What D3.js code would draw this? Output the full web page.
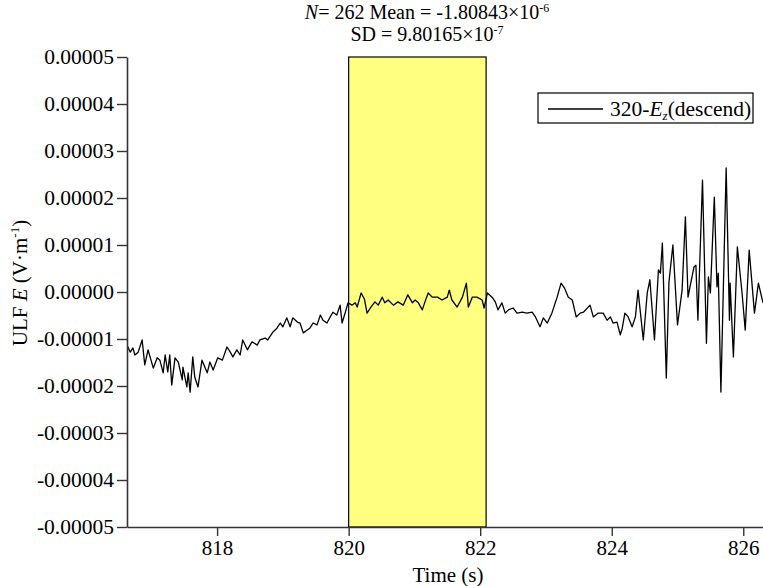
<!DOCTYPE html>
<html>
<head>
<meta charset="utf-8">
<script src="https://cdn.jsdelivr.net/npm/d3@7"></script>
<style>
  body { margin: 0; background: #fff; }
  svg { display: block; font-family: "Liberation Serif", "Times New Roman", serif; }
</style>
</head>
<body>
<div id="chart"></div>
<script>
(function() {
    "use strict";

    // Traced signal: time (s) and field in micro V/m (scaled by 1e-6 below).
    var timeS = [
        816.63, 816.68, 816.72, 816.75, 816.80, 816.86, 816.90, 816.95, 817.03, 817.09,
        817.13, 817.18, 817.21, 817.25, 817.28, 817.31, 817.36, 817.41, 817.47, 817.48,
        817.54, 817.56, 817.59, 817.63, 817.66, 817.71, 817.77, 817.85, 817.89, 817.94,
        818.01, 818.08, 818.15, 818.20, 818.24, 818.30, 818.35, 818.39, 818.46, 818.53,
        818.61, 818.65, 818.73, 818.77, 818.85, 818.91, 818.96, 819.00, 819.06, 819.11,
        819.15, 819.22, 819.26, 819.31, 819.37, 819.41, 819.46, 819.52, 819.57, 819.61,
        819.67, 819.72, 819.76, 819.82, 819.87, 819.90, 819.95, 819.99, 820.05, 820.10,
        820.13, 820.19, 820.24, 820.28, 820.33, 820.40, 820.45, 820.51, 820.55, 820.60,
        820.68, 820.75, 820.83, 820.90, 820.97, 821.01, 821.06, 821.12, 821.16, 821.21,
        821.27, 821.35, 821.42, 821.50, 821.53, 821.57, 821.65, 821.73, 821.79, 821.82,
        821.88, 821.95, 822.03, 822.06, 822.11, 822.18, 822.23, 822.27, 822.33, 822.38,
        822.43, 822.50, 822.56, 822.64, 822.71, 822.79, 822.84, 822.91, 822.96, 823.02,
        823.09, 823.17, 823.23, 823.28, 823.34, 823.40, 823.46, 823.52, 823.57, 823.67,
        823.72, 823.79, 823.87, 823.93, 823.98, 824.02, 824.08, 824.13, 824.16, 824.20,
        824.25, 824.31, 824.36, 824.40, 824.48, 824.54, 824.58, 824.65, 824.71, 824.74,
        824.77, 824.83, 824.87, 824.93, 825.00, 825.07, 825.12, 825.16, 825.19, 825.25,
        825.28, 825.31, 825.38, 825.44, 825.47, 825.50, 825.56, 825.60, 825.62, 825.66,
        825.74, 825.79, 825.80, 825.85, 825.91, 825.98, 826.03, 826.09, 826.17, 826.23,
        826.30
    ];
    var ezMicro = [
        -11.3, -12.8, -11.9, -13.4, -12.8, -10.2, -15.5, -12.3, -16.2, -14.0,
        -14.5, -17.2, -13.4, -17.0, -13.4, -19.8, -14.0, -14.9, -18.7, -16.0,
        -20.2, -17.2, -21.3, -13.8, -18.1, -20.2, -14.5, -17.2, -14.9, -16.6,
        -14.0, -14.5, -11.7, -12.8, -13.8, -12.3, -13.4, -10.2, -12.3, -10.6,
        -11.3, -10.2, -9.8, -10.2, -8.5, -7.7, -6.6, -7.4, -5.5, -7.4,
        -5.5, -6.4, -6.6, -8.7, -8.1, -7.7, -6.6, -7.0, -4.9, -6.0,
        -6.6, -5.3, -4.3, -4.9, -2.8, -6.6, -4.3, -2.3, -2.8, -2.3,
        -3.2, -0.2, -1.5, -4.5, -3.4, -2.1, -2.8, -1.1, -2.3, -1.7,
        -2.8, -2.1, -2.8, -0.6, -2.3, -1.7, -2.3, -3.8, -2.1, -0.2,
        -1.1, -1.1, -1.7, -1.1, 0.4, -1.7, -3.2, -1.1, 1.9, -3.2,
        -1.1, -1.1, -1.7, -3.4, -0.2, -1.1, -2.1, -3.8, -2.3, -4.5,
        -3.8, -3.4, -4.5, -4.3, -4.5, -4.3, -5.3, -7.4, -5.5, -6.6,
        -4.5, -1.1, 1.9, 0.9, -1.1, -1.7, -5.3, -4.5, -4.3, -2.8,
        -5.3, -4.5, -4.5, -6.0, -5.3, -6.6, -6.4, -9.1, -7.7, -4.5,
        -5.3, -7.4, -5.3, 0.4, -10.2, -0.2, 2.6, -10.2, 4.7, 4.0,
        10.4, -18.3, 2.1, 10.0, -7.0, 0.4, 16.0, -1.1, 1.1, 5.3,
        5.7, -6.0, 23.8, -10.9, 3.2, -0.2, 20.2, 1.1, 4.0, -21.3,
        26.4, -6.0, 1.9, -13.8, 9.6, 0.0, -8.1, 8.9, -4.5, 1.9,
        -2.3
    ];

    var xDomain = [816.63, 826.3];
    var yDomain = [-0.00005, 0.00005];
    var xTicks = [818, 820, 822, 824, 826];
    var xMinorTicks = [817, 819, 821, 823, 825];
    var yTicks = [-0.00005, -0.00004, -0.00003, -0.00002, -0.00001, 0, 0.00001, 0.00002, 0.00003, 0.00004, 0.00005];
    var yMinorTicks = [-0.000045, -0.000035, -0.000025, -0.000015, -0.000005, 0.000005, 0.000015, 0.000025, 0.000035, 0.000045];

    // Highlighted window and its statistics.
    var windowRange = [820, 822.09];
    var statN = "262";
    var statMean = "-1.80843";
    var statMeanExp = "-6";
    var statSd = "9.80165";
    var statSdExp = "-7";

    var w = 763, h = 586;
    var left = 127, right = 763, top = 57, bottom = 527;

    var data = timeS.map(function(t, i) {
        return { t: t, v: ezMicro[i] * 1e-6 };
    });

    var xScale = d3.scaleLinear().domain(xDomain).range([left, right]);
    var yScale = d3.scaleLinear().domain(yDomain).range([bottom, top]);

    var svg = d3.select("#chart").append("svg")
        .attr("width", w)
        .attr("height", h);

    svg.append("clipPath").attr("id", "plot-clip")
        .append("rect")
        .attr("x", left).attr("y", top)
        .attr("width", right - left).attr("height", bottom - top);

    // Yellow window
    svg.append("rect")
        .attr("x", xScale(windowRange[0]))
        .attr("y", yScale(yDomain[1]))
        .attr("width", xScale(windowRange[1]) - xScale(windowRange[0]))
        .attr("height", yScale(yDomain[0]) - yScale(yDomain[1]))
        .attr("fill", "#ffff80")
        .attr("stroke", "#000")
        .attr("stroke-width", 1.2);

    // Signal line
    var line = d3.line()
        .x(function(d) { return xScale(d.t); })
        .y(function(d) { return yScale(d.v); });

    svg.append("path")
        .datum(data)
        .attr("clip-path", "url(#plot-clip)")
        .attr("d", line)
        .attr("fill", "none")
        .attr("stroke", "#000")
        .attr("stroke-width", 1.3)
        .attr("stroke-linejoin", "round");

    // Axes
    var xAxis = d3.axisBottom(xScale).tickValues(xTicks).tickSize(9).tickSizeOuter(0)
        .tickPadding(4).tickFormat(d3.format("d"));
    var xMinor = d3.axisBottom(xScale).tickValues(xMinorTicks).tickSize(5).tickFormat("");
    var yAxis = d3.axisLeft(yScale).tickValues(yTicks).tickSize(10).tickSizeOuter(0)
        .tickPadding(3).tickFormat(function(d) {
            var s = Math.abs(d).toFixed(5);
            return (d < -1e-12 ? "-" : "") + s;
        });
    var yMinor = d3.axisLeft(yScale).tickValues(yMinorTicks).tickSize(5).tickFormat("");

    var gx = svg.append("g").attr("transform", "translate(0," + bottom + ")");
    gx.call(xMinor);
    gx.call(xAxis);
    var gy = svg.append("g").attr("transform", "translate(" + left + ",0)");
    gy.call(yMinor);
    gy.call(yAxis);

    svg.selectAll(".domain").attr("stroke", "#333").attr("stroke-width", 1.6);
    svg.selectAll(".tick line").attr("stroke", "#333").attr("stroke-width", 1.4);
    gx.selectAll("text").attr("font-size", 21).attr("fill", "#000")
        .attr("font-family", "Liberation Serif, serif");
    gy.selectAll("text").attr("font-size", 21.5).attr("fill", "#000")
        .attr("font-family", "Liberation Serif, serif");

    // Axis titles
    svg.append("text")
        .attr("x", 448).attr("y", 582)
        .attr("text-anchor", "middle")
        .attr("font-size", 21)
        .text("Time (s)");

    var yl = svg.append("text")
        .attr("transform", "translate(27,283) rotate(-90)")
        .attr("text-anchor", "middle")
        .attr("font-size", 21);
    yl.append("tspan").text("ULF ");
    yl.append("tspan").attr("font-style", "italic").text("E");
    yl.append("tspan").text(" (V\u00b7m");
    yl.append("tspan").attr("font-size", 13).attr("dy", -8).text("-1");
    yl.append("tspan").attr("dy", 8).text(")");

    // Statistics title
    var t1 = svg.append("text")
        .attr("x", 427).attr("y", 19)
        .attr("text-anchor", "middle")
        .attr("font-size", 20);
    t1.append("tspan").attr("font-style", "italic").text("N");
    t1.append("tspan").text("= " + statN + " Mean = " + statMean + "\u00d710");
    t1.append("tspan").attr("font-size", 12).attr("dy", -7).text(statMeanExp);

    var t2 = svg.append("text")
        .attr("x", 427).attr("y", 41)
        .attr("text-anchor", "middle")
        .attr("font-size", 20);
    t2.append("tspan").text("SD = " + statSd + "\u00d710");
    t2.append("tspan").attr("font-size", 12).attr("dy", -7).text(statSdExp);

    // Legend
    var lg = svg.append("g");
    lg.append("rect")
        .attr("x", 538).attr("y", 93)
        .attr("width", 215).attr("height", 30)
        .attr("fill", "#fff")
        .attr("stroke", "#000")
        .attr("stroke-width", 1.2);
    lg.append("line")
        .attr("x1", 548).attr("x2", 603)
        .attr("y1", 109).attr("y2", 109)
        .attr("stroke", "#000")
        .attr("stroke-width", 1.3);
    var lt = lg.append("text")
        .attr("x", 610).attr("y", 116)
        .attr("font-size", 21.5);
    lt.append("tspan").text("320-");
    lt.append("tspan").attr("font-style", "italic").text("E");
    lt.append("tspan").attr("font-size", 13).attr("dy", 4).attr("font-style", "italic").text("z");
    lt.append("tspan").attr("dy", -4).text("(descend)");
})();
</script>
</body>
</html>
